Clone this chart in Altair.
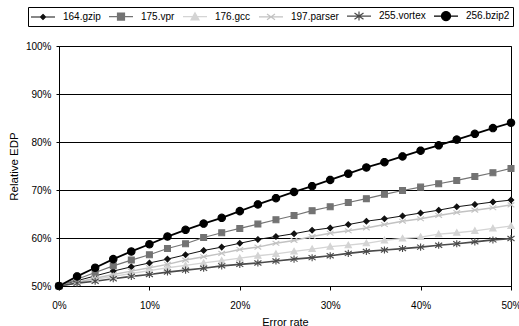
import math
import altair as alt
import pandas as pd

error_rate = [0, 2, 4, 6, 8, 10, 12, 14, 16, 18, 20, 22, 24, 26, 28, 30, 32, 34, 36, 38, 40, 42, 44, 46, 48, 50]
gzip_164 = [50.0, 51.1, 52.1, 53.1, 54.0, 54.8, 55.6, 56.5, 57.4, 58.1, 58.9, 59.7, 60.3, 60.9, 61.6, 62.1, 62.8, 63.5, 64.0, 64.6, 65.2, 65.8, 66.5, 67.0, 67.5, 67.9]
vpr_175 = [50.0, 51.4, 52.8, 54.2, 55.4, 56.5, 57.8, 58.8, 60.1, 61.1, 62.0, 62.9, 63.8, 64.7, 65.7, 66.5, 67.4, 68.2, 69.1, 69.9, 70.6, 71.3, 72.0, 72.8, 73.6, 74.5]
gcc_176 = [50.0, 50.7, 51.4, 52.0, 52.6, 53.2, 53.8, 54.3, 54.8, 55.3, 55.8, 56.3, 56.7, 57.2, 57.7, 58.2, 58.5, 58.9, 59.5, 59.9, 60.2, 60.8, 61.1, 61.5, 62.0, 62.5]
parser_197 = [50.0, 50.8, 51.6, 52.4, 53.1, 53.8, 54.5, 55.4, 56.1, 56.8, 57.6, 58.1, 58.9, 59.5, 60.3, 61.0, 61.5, 62.1, 62.8, 63.5, 64.0, 64.7, 65.3, 65.8, 66.3, 66.9]
vortex_255 = [50.0, 50.6, 51.0, 51.5, 52.0, 52.4, 52.9, 53.3, 53.7, 54.2, 54.5, 54.8, 55.2, 55.6, 55.9, 56.3, 56.8, 57.2, 57.5, 57.8, 58.1, 58.5, 58.8, 59.2, 59.6, 59.9]
bzip2_256 = [50.0, 52.0, 53.8, 55.6, 57.2, 58.7, 60.3, 61.7, 63.0, 64.2, 65.6, 67.0, 68.3, 69.6, 70.8, 72.1, 73.4, 74.7, 75.8, 77.0, 78.2, 79.3, 80.5, 81.7, 82.9, 84.0]

series_names = ["164.gzip", "175.vpr", "176.gcc", "197.parser", "255.vortex", "256.bzip2"]
series_values = [gzip_164, vpr_175, gcc_176, parser_197, vortex_255, bzip2_256]
y_ticks = [50, 60, 70, 80, 90, 100]
x_ticks = [0, 10, 20, 30, 40, 50]

rows = []
for name, vals in zip(series_names, series_values):
    for x, y in zip(error_rate, vals):
        rows.append({"series": name, "rate": x, "edp": y})
df = pd.DataFrame(rows)

# ---- styling ----
FONT = "Liberation Sans"
colors = ["#111111", "#737373", "#d4d4d4", "#c2c2c2", "#4a4a4a", "#000000"]
line_widths = [1.0, 1.8, 1.8, 1.8, 1.3, 1.8]
point_sizes = [30, 55, 64, 60, 72, 72]


def f(v):
    return f"{v:.3f}".rstrip("0").rstrip(".")


def circle(r, n=20):
    pts = [(r * math.cos(2 * math.pi * k / n), r * math.sin(2 * math.pi * k / n)) for k in range(n)]
    return "M" + "L".join(f"{f(a)},{f(b)}" for a, b in pts) + "Z"


def diamond(r):
    return f"M0,{f(-r)}L{f(r)},0L0,{f(r)}L{f(-r)},0Z"


def square(r):
    return f"M{f(-r)},{f(-r)}L{f(r)},{f(-r)}L{f(r)},{f(r)}L{f(-r)},{f(r)}Z"


def triangle(r):
    return f"M0,{f(-r)}L{f(r)},{f(0.8 * r)}L{f(-r)},{f(0.8 * r)}Z"


def xmark(r):
    return f"M{f(-r)},{f(-0.7 * r)}L{f(r)},{f(0.7 * r)}M{f(-r)},{f(0.7 * r)}L{f(r)},{f(-0.7 * r)}"


def asterisk(r):
    return xmark(r) + f"M0,{f(-r)}L0,{f(r)}"


chart_shapes = [diamond(1), square(1), triangle(1), xmark(1), asterisk(1), circle(1)]
seg = "M-2.4,0L2.4,0"
legend_shapes = [seg + diamond(0.5), seg + square(0.7), seg + triangle(0.8),
                 seg + xmark(0.8), seg + asterisk(0.9), seg + circle(0.9)]

color_scale = alt.Scale(domain=series_names, range=colors)

x_enc = alt.X(
    "rate:Q",
    scale=alt.Scale(domain=[0, 50], nice=False),
    axis=alt.Axis(
        values=x_ticks, labelExpr="datum.value + '%'", grid=False,
        tickSize=4, tickColor="black", domainColor="black", labelFlush=False,
        labelPadding=10, labelFont=FONT, labelFontSize=10, labelColor="black",
        title="Error rate", titleFont=FONT, titleFontSize=11, titleFontWeight="normal",
        titleColor="black", titlePadding=6,
    ),
)
y_enc = alt.Y(
    "edp:Q",
    scale=alt.Scale(domain=[50, 100], nice=False),
    axis=alt.Axis(
        values=y_ticks, labelExpr="datum.value + '%'", grid=True,
        gridColor="black", gridWidth=1, gridOpacity=1,
        tickSize=3, tickColor="black", domainColor="black", labelFlush=False,
        labelPadding=5, labelFont=FONT, labelFontSize=10, labelColor="black",
        title="Relative EDP", titleFont=FONT, titleFontSize=11.5, titleFontWeight="normal",
        titleColor="black", titlePadding=6,
    ),
)

lines = alt.Chart(df).mark_line().encode(
    x=x_enc,
    y=y_enc,
    stroke=alt.Stroke("series:N", scale=color_scale, legend=None),
    strokeWidth=alt.StrokeWidth("series:N", scale=alt.Scale(domain=series_names, range=line_widths), legend=None),
    order="rate:Q",
)

points = alt.Chart(df).mark_point(filled=True, strokeWidth=1.1, opacity=1).encode(
    x="rate:Q",
    y="edp:Q",
    shape=alt.Shape("series:N", scale=alt.Scale(domain=series_names, range=chart_shapes), legend=None),
    fill=alt.Fill("series:N", scale=color_scale, legend=None),
    stroke=alt.Stroke("series:N", scale=color_scale, legend=None),
    size=alt.Size("series:O", scale=alt.Scale(domain=series_names, range=point_sizes), legend=None),
)

leg = alt.Legend(
    title=None, orient="none", legendX=-31, legendY=-39, direction="horizontal", columns=6,
    symbolSize=100, symbolOffset=6, labelOffset=14, columnPadding=5, padding=3,
    strokeColor="black", fillColor="white", labelFont=FONT, labelFontSize=10,
    labelColor="black", symbolOpacity=1, symbolStrokeWidth=1.2,
)

legend_layer = alt.Chart(df[df["rate"] == 0]).mark_point(filled=True, opacity=0).encode(
    x="rate:Q",
    y="edp:Q",
    shape=alt.Shape("series:N", scale=alt.Scale(domain=series_names, range=legend_shapes), legend=leg),
    fill=alt.Fill("series:N", scale=alt.Scale(domain=series_names, range=colors), legend=leg),
    stroke=alt.Stroke("series:N", scale=alt.Scale(domain=series_names, range=colors), legend=leg),
)

chart = (
    alt.layer(lines, points, legend_layer)
    .resolve_scale(shape="independent", fill="independent", stroke="independent",
                   size="independent", strokeWidth="independent")
    .properties(width=452, height=240,
                autosize=alt.AutoSizeParams(type="none"),
                padding={"left": 59, "top": 46, "right": 8, "bottom": 40},
                background="white")
    .configure_view(stroke="black", strokeWidth=1)
)

chart.save("out.html", embed_options={"renderer": "svg", "actions": False})
